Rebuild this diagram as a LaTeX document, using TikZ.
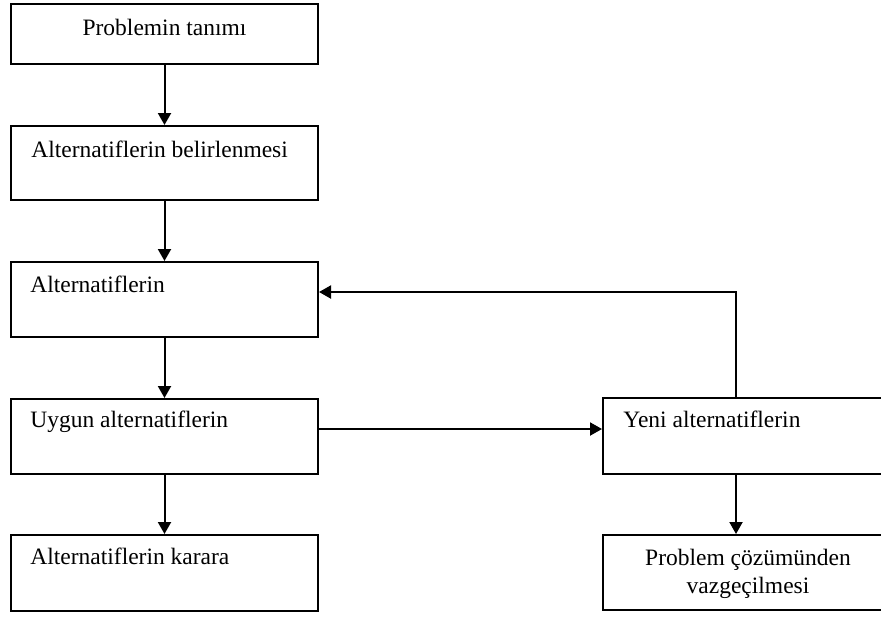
\documentclass[tikz,border=0pt]{standalone}
\usepackage{fontspec}
\setmainfont{Liberation Serif}
\usetikzlibrary{arrows.meta,calc}
\begin{document}
\begin{tikzpicture}[x=0.5pt,y=-0.5pt,
  box/.style={draw,line width=1pt,rectangle,inner sep=0pt,minimum width=153.5pt},
  lbl/.style={anchor=base west,inner sep=0pt,font=\fontsize{11.75pt}{14pt}\selectfont},
  arr/.style={line width=1pt,-{Triangle[width=6.5pt,length=6pt]}}]
\useasboundingbox (0,0) rectangle (881,617);
% boxes
\node[box,minimum height=30pt]   (b1) at (164.5,34)    {};
\node[box,minimum height=37pt]   (b2) at (164.5,163)   {};
\node[box,minimum height=37.5pt] (b3) at (164.5,299.5) {};
\node[box,minimum height=37.5pt] (b4) at (164.5,436.5) {};
\node[box,minimum height=38pt]   (b5) at (164.5,573)   {};
\node[box,minimum width=145pt,minimum height=38pt]   (b6) at (748,436)   {};
\node[box,minimum width=145pt,minimum height=37.5pt] (b7) at (748,572.5) {};
% texts
\node[lbl,anchor=base] (t1) at ([shift={(0,32)}]b1.north) {Problemin tanımı};
\node[lbl] (t2) at ([shift={(21,32)}]b2.north west) {Alternatiflerin belirlenmesi};
\node[lbl] (t3) at ([shift={(20,31)}]b3.north west) {Alternatiflerin};
\node[lbl] (t4) at ([shift={(20,29)}]b4.north west) {Uygun alternatiflerin};
\node[lbl] (t5) at ([shift={(20,30)}]b5.north west) {Alternatiflerin karara};
\node[lbl] (t6) at ([shift={(21,30)}]b6.north west) {Yeni alternatiflerin};
\node[lbl,anchor=center,align=center] (t7) at ([shift={(0,1)}]b7.center) {Problem çözümünden\\vazgeçilmesi};
% connectors
\coordinate (h) at (0,429);
\coordinate (lp) at (736,292);
\draw[arr] (b1.south) -- (b2.north);
\draw[arr] (b2.south) -- (b3.north);
\draw[arr] (b3.south) -- (b4.north);
\draw[arr] (b4.south) -- (b5.north);
\draw[arr] (b4.east |- h) -- (b6.west |- h);
\draw[arr] (b6.north -| lp) -- (lp) -- (b3.east |- lp);
\draw[arr] (b6.south -| lp) -- (b7.north -| lp);
\end{tikzpicture}
\end{document}
